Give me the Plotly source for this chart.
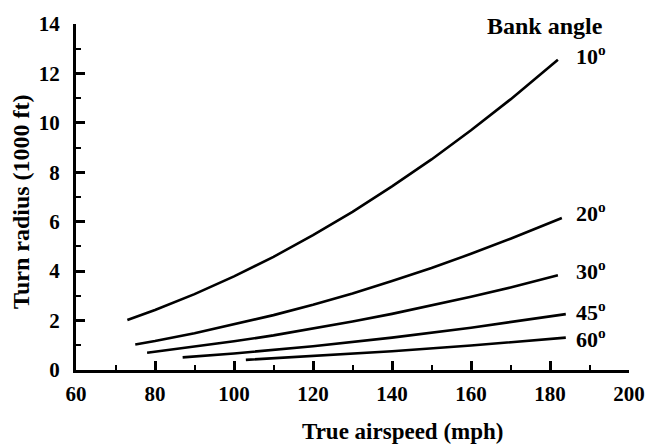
import plotly.graph_objects as go

speed_10 = [73, 80, 90, 100, 110, 120, 130, 140, 150, 160, 170, 182]
radius_10 = [2.02, 2.43, 3.07, 3.79, 4.58, 5.46, 6.40, 7.43, 8.52, 9.70, 10.95, 12.55]

speed_20 = [75, 80, 90, 100, 110, 120, 130, 140, 150, 160, 170, 183]
radius_20 = [1.03, 1.17, 1.49, 1.84, 2.22, 2.64, 3.10, 3.60, 4.13, 4.70, 5.31, 6.15]

speed_30 = [78, 90, 100, 110, 120, 130, 140, 150, 160, 170, 182]
radius_30 = [0.70, 0.94, 1.16, 1.40, 1.67, 1.96, 2.27, 2.60, 2.96, 3.34, 3.83]

speed_45 = [87, 100, 120, 140, 160, 184]
radius_45 = [0.51, 0.67, 0.96, 1.31, 1.71, 2.26]

speed_60 = [103, 120, 140, 160, 184]
radius_60 = [0.41, 0.56, 0.76, 0.99, 1.31]

x_ticks = [60, 80, 100, 120, 140, 160, 180, 200]
y_ticks = [0, 2, 4, 6, 8, 10, 12, 14]

labels = ["10", "20", "30", "45", "60"]
label_x = [186, 186, 186, 186, 186]
label_y = [12.75, 6.4, 4.05, 2.4, 1.3]

series = [(speed_10, radius_10), (speed_20, radius_20), (speed_30, radius_30),
          (speed_45, radius_45), (speed_60, radius_60)]

FONT = "Liberation Serif"

fig = go.Figure()
for (xs, ys), lab in zip(series, labels):
    fig.add_trace(go.Scatter(x=xs, y=ys, mode="lines",
                             line=dict(color="black", width=2.6),
                             name=lab, showlegend=False, hoverinfo="skip"))

for lab, lx, ly in zip(labels, label_x, label_y):
    fig.add_annotation(x=lx, y=ly, text="<b>" + lab + "<sup>o</sup></b>",
                       showarrow=False, xanchor="left", yanchor="middle",
                       font=dict(family=FONT, size=22, color="black"))

fig.add_annotation(x=0.848, y=0.995, xref="paper", yref="paper",
                   text="<b>Bank angle</b>", showarrow=False,
                   xanchor="center", yanchor="middle",
                   font=dict(family=FONT, size=24, color="black"))

# axis titles
fig.add_annotation(x=0.59, y=-0.178, xref="paper", yref="paper",
                   text="<b>True airspeed (mph)</b>", showarrow=False,
                   xanchor="center", yanchor="middle",
                   font=dict(family=FONT, size=23, color="black"))
fig.add_annotation(x=-0.1, y=0.485, xref="paper", yref="paper",
                   text="<b>Turn radius (1000 ft)</b>", showarrow=False, textangle=-90,
                   xanchor="center", yanchor="middle",
                   font=dict(family=FONT, size=24, color="black"))

axis_common = dict(
    showline=True, linecolor="black", linewidth=3, showgrid=False, zeroline=False,
    ticks="inside", ticklen=9, tickwidth=2.5, tickcolor="black", automargin=False,
    tickfont=dict(family=FONT, size=21, color="black"),
)

fig.update_xaxes(range=[60, 200], tickmode="array", tickvals=x_ticks,
                 ticktext=["<b>%d</b>" % v for v in x_ticks], ticklabelstandoff=3,
                 minor=dict(ticks="inside", ticklen=5, tickwidth=2, dtick=10, tick0=60,
                            tickcolor="black"),
                 **axis_common)
fig.update_yaxes(range=[0, 14], tickmode="array", tickvals=y_ticks,
                 ticktext=["<b>%d</b>" % v for v in y_ticks], ticklabelstandoff=9,
                 minor=dict(ticks="inside", ticklen=5, tickwidth=2, dtick=1, tick0=0,
                            tickcolor="black"),
                 **axis_common)

fig.update_layout(width=650, height=444, plot_bgcolor="white", paper_bgcolor="white",
                  margin=dict(l=76, r=21, t=24, b=74), hovermode=False,
                  font=dict(family=FONT, color="black"))

fig.write_html("out.html", config={"displayModeBar": False},
               post_script="document.body.style.margin='0';")
